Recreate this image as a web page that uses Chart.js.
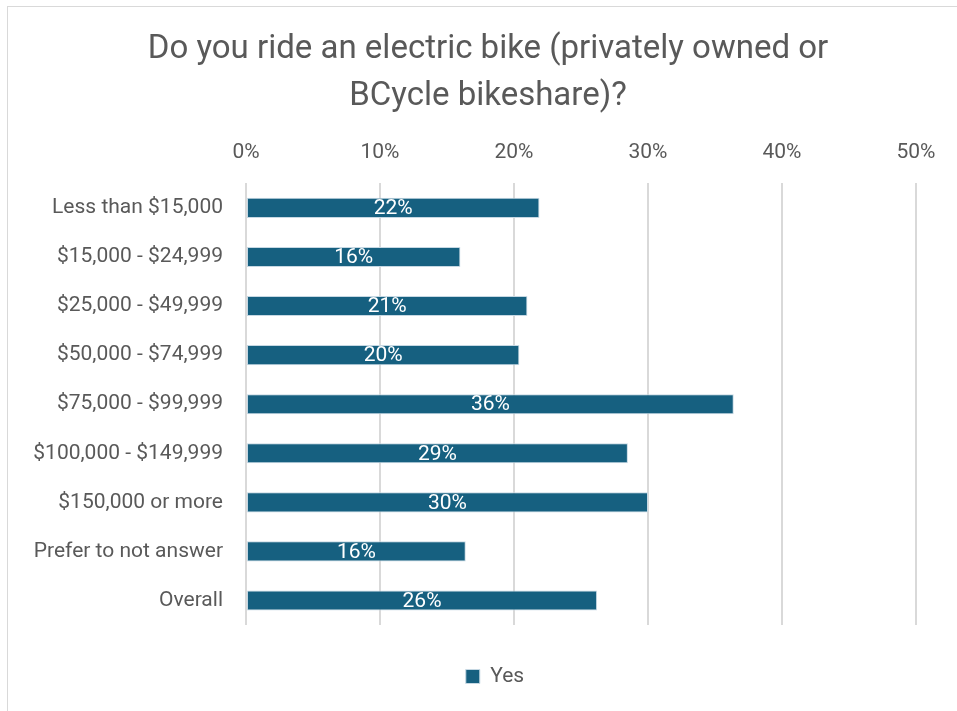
<!DOCTYPE html>
<html lang="en">
  <head>
    <meta charset="UTF-8" />
    <meta name="viewport" content="width=device-width, initial-scale=1.0" />
    <title>Electric bike riders by income</title>
    <script src="https://cdn.jsdelivr.net/npm/chart.js"></script>
    <style>
      body {
        margin: 0;
        background: #fff;
      }
      .chart_box {
        position: relative;
        width: 957px;
        height: 711px;
        overflow: hidden;
      }
      .chart_frame {
        position: absolute;
        left: 7px;
        top: 6px;
        width: 980px;
        height: 740px;
        border-left: 1px solid #d9d9d9;
        border-top: 1px solid #d9d9d9;
      }
      #bike-chart {
        position: absolute;
        left: 0;
        top: 0;
      }
    </style>
  </head>
  <body>
    <div class="chart_box">
      <div class="chart_frame"></div>
      <canvas id="bike-chart" width="957" height="711"></canvas>
    </div>

    <script>
      const incomeGroups = [
        "Less than $15,000",
        "$15,000 - $24,999",
        "$25,000 - $49,999",
        "$50,000 - $74,999",
        "$75,000 - $99,999",
        "$100,000 - $149,999",
        "$150,000 or more",
        "Prefer to not answer",
        "Overall",
      ];
      // share answering "Yes", in percent
      const yesValues = [21.9, 16.0, 21.0, 20.4, 36.4, 28.5, 30.0, 16.4, 26.2];
      const titleLines = [
        "Do you ride an electric bike (privately owned or",
        "BCycle bikeshare)?",
      ];

      const textColor = "#595959";
      const bodyFont = "Roboto, 'Liberation Sans', sans-serif";

      // white percentage label in the middle of each bar
      const barLabels = {
        id: "barLabels",
        afterDatasetsDraw(chart) {
          const ctx = chart.ctx;
          const meta = chart.getDatasetMeta(0);
          ctx.save();
          ctx.fillStyle = "#ffffff";
          ctx.font = "21px " + bodyFont;
          ctx.textAlign = "center";
          ctx.textBaseline = "middle";
          meta.data.forEach((bar, i) => {
            const cx = (bar.x + bar.base) / 2;
            ctx.fillText(Math.round(yesValues[i]) + "%", cx, bar.y + 1);
          });
          ctx.restore();
        },
      };

      // center title and legend over the plot instead of the whole canvas
      const shiftBlocks = {
        id: "shiftBlocks",
        afterLayout(chart) {
          chart.titleBlock.left += 20;
          chart.titleBlock.right += 20;
          chart.legend.left += 27;
          chart.legend.right += 27;
        },
      };

      const ctx = document.getElementById("bike-chart").getContext("2d");

      new Chart(ctx, {
        type: "bar",
        data: {
          labels: incomeGroups,
          datasets: [
            {
              label: "Yes",
              data: yesValues,
              backgroundColor: "#166080",
              borderColor: "#c6d8e3",
              borderWidth: 1,
              borderSkipped: false,
              barPercentage: 0.41,
              categoryPercentage: 1,
            },
          ],
        },
        options: {
          indexAxis: "y",
          responsive: false,
          animation: false,
          layout: {
            padding: { top: 26, left: 20, right: 41, bottom: 14 },
          },
          scales: {
            x: {
              position: "top",
              min: 0,
              max: 50,
              ticks: {
                stepSize: 10,
                padding: 18,
                color: textColor,
                font: { family: bodyFont, size: 21 },
                callback: (v) => v + "%",
              },
              grid: {
                color: "#d9d9d9",
                lineWidth: 2,
                drawTicks: false,
              },
              border: { display: false },
              afterFit: (scale) => {
                scale.height = 63;
              },
            },
            y: {
              ticks: {
                padding: 23,
                color: textColor,
                font: { family: bodyFont, size: 21 },
              },
              grid: { display: false, drawTicks: false },
              border: { display: false },
              afterFit: (scale) => {
                scale.width = 226;
              },
            },
          },
          plugins: {
            title: {
              display: true,
              text: titleLines,
              color: textColor,
              font: { family: bodyFont, size: 33, weight: "normal", lineHeight: 1.43 },
              padding: { top: 0, bottom: 0 },
            },
            legend: {
              position: "bottom",
              labels: {
                boxWidth: 14,
                boxHeight: 14,
                padding: 41,
                color: textColor,
                font: { family: bodyFont, size: 21 },
              },
            },
            tooltip: { enabled: false },
          },
        },
        plugins: [barLabels, shiftBlocks],
      });
    </script>
  </body>
</html>
